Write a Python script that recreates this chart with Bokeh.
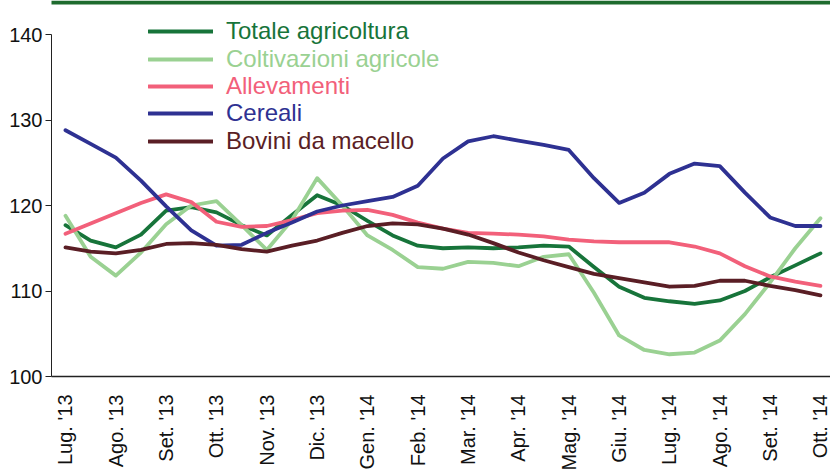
from bokeh.plotting import figure
from bokeh.models import FixedTicker, Legend, LegendItem, BoxAnnotation
from bokeh.embed import file_html
from bokeh.resources import INLINE

months = ["Lug. '13", "Ago. '13", "Set. '13", "Ott. '13", "Nov. '13", "Dic. '13",
          "Gen. '14", "Feb. '14", "Mar. '14", "Apr. '14", "Mag. '14", "Giu. '14",
          "Lug. '14", "Ago. '14", "Set. '14", "Ott. '14"]

# half-month time positions (0 = Lug. '13)
periods = [0, 0.5, 1, 1.5, 2, 2.5, 3, 3.5, 4, 4.5, 5, 5.5, 6, 6.5, 7, 7.5,
           8, 8.5, 9, 9.5, 10, 10.5, 11, 11.5, 12, 12.5, 13, 13.5, 14, 14.5, 15]

totale = [117.7, 115.9, 115.1, 116.6, 119.4, 119.8, 119.2, 117.7, 116.5, 118.9, 121.2,
          120.0, 118.2, 116.5, 115.3, 115.0, 115.1, 115.0, 115.1, 115.3, 115.2,
          112.8, 110.5, 109.2, 108.8, 108.5, 108.9, 110.0, 111.6, 113.0, 114.4]
coltivazioni = [118.8, 114.0, 111.8, 114.5, 117.8, 120.0, 120.5, 117.7, 114.8, 118.3, 123.2,
                120.0, 116.5, 114.8, 112.8, 112.6, 113.4, 113.3, 112.9, 114.0, 114.3,
                109.8, 104.8, 103.1, 102.6, 102.8, 104.2, 107.3, 111.0, 115.0, 118.5]
allevamenti = [116.7, 117.9, 119.1, 120.3, 121.3, 120.4, 118.1, 117.5, 117.6, 118.3, 119.1,
               119.4, 119.5, 118.9, 118.0, 117.3, 116.8, 116.7, 116.6, 116.4, 116.0,
               115.8, 115.7, 115.7, 115.7, 115.2, 114.4, 112.9, 111.7, 111.1, 110.6]
cereali = [128.8, 127.2, 125.6, 122.9, 119.9, 117.1, 115.3, 115.4, 116.8, 118.0, 119.3,
           120.0, 120.5, 121.0, 122.3, 125.5, 127.5, 128.1, 127.6, 127.1, 126.5,
           123.2, 120.3, 121.5, 123.7, 124.9, 124.6, 121.5, 118.6, 117.6, 117.6]
bovini = [115.1, 114.6, 114.4, 114.8, 115.5, 115.6, 115.4, 114.9, 114.6, 115.3, 115.9,
          116.8, 117.6, 117.9, 117.8, 117.3, 116.6, 115.6, 114.5, 113.6, 112.8,
          112.0, 111.5, 111.0, 110.5, 110.6, 111.2, 111.2, 110.6, 110.1, 109.5]

y_ticks = [100, 110, 120, 130, 140]

series = [
    ("Totale agricoltura", totale, "#17743a"),
    ("Coltivazioni agricole", coltivazioni, "#9ad192"),
    ("Allevamenti", allevamenti, "#f2607a"),
    ("Cereali", cereali, "#2e3192"),
    ("Bovini da macello", bovini, "#5a1e25"),
]

FONT = "Liberation Sans"

# layout: plot frame spans from canvas top to the x axis (376 px);
# the value axis itself covers 100..140, 140 sits 34 px below the top.
FRAME_H = 376
AXIS_TOP_PX = 34
y_lo, y_hi = y_ticks[0], y_ticks[-1]
units_per_px = (y_hi - y_lo) / (FRAME_H - AXIS_TOP_PX)
y_end = y_hi + AXIS_TOP_PX * units_per_px

fig = figure(width=830, height=473, output_backend="svg", toolbar_location=None,
             title=None,
             x_range=(-0.278, 15.2), y_range=(y_lo, y_end),
             min_border_left=51, min_border_right=0, min_border_top=0, min_border_bottom=97)
fig.outline_line_color = None
fig.grid.visible = False
fig.background_fill_color = "white"
fig.border_fill_color = "white"

renderers = []
for name, vals, col in series:
    r = fig.line(periods, vals, line_color=col, line_width=3.8, line_join="round", line_cap="round")
    renderers.append(r)

# axes
fig.xaxis.ticker = FixedTicker(ticks=list(range(len(months))))
fig.xaxis.major_label_overrides = {i: m for i, m in enumerate(months)}
fig.xaxis.major_label_orientation = 3.14159265 / 2
fig.xaxis.major_tick_line_color = None
fig.xaxis.major_tick_in = 0
fig.xaxis.major_tick_out = 0
fig.xaxis.minor_tick_line_color = None
fig.xaxis.axis_line_color = "#222222"
fig.xaxis.axis_line_width = 1.5
fig.xaxis.major_label_text_font = FONT
fig.xaxis.major_label_text_font_size = "20px"
fig.xaxis.major_label_text_color = "#111111"
fig.xaxis.major_label_standoff = 18

fig.yaxis.ticker = FixedTicker(ticks=y_ticks)
fig.yaxis.bounds = (y_lo, y_hi)
fig.yaxis.minor_tick_line_color = None
fig.yaxis.major_tick_in = 0
fig.yaxis.major_tick_out = 6
fig.yaxis.axis_line_color = "#222222"
fig.yaxis.major_tick_line_color = "#222222"
fig.yaxis.major_label_text_font = FONT
fig.yaxis.major_label_text_font_size = "20px"
fig.yaxis.major_label_text_color = "#111111"
fig.yaxis.major_label_standoff = 3

# legends: one per series so each label has its own colour
row_step = 27.3
for i, ((name, vals, col), r) in enumerate(zip(series, renderers)):
    leg = Legend(items=[LegendItem(label=name, renderers=[r])],
                 location=(97, 330.7 - i * row_step),
                 orientation="vertical", margin=0, padding=0,
                 glyph_width=65, glyph_height=24, label_height=24,
                 label_standoff=13, spacing=0,
                 border_line_color=None, background_fill_alpha=0,
                 label_text_font=FONT, label_text_font_size="24px",
                 label_text_color=col)
    fig.add_layout(leg, "center")

# top green band (4 px tall, along the top edge of the canvas)
fig.add_layout(BoxAnnotation(left=0, left_units="canvas",
                             bottom=y_end - 4 * units_per_px,
                             fill_color="#1e6b2e", fill_alpha=1, line_color=None))

p = fig
open("out.html", "w").write(file_html(p, INLINE))
